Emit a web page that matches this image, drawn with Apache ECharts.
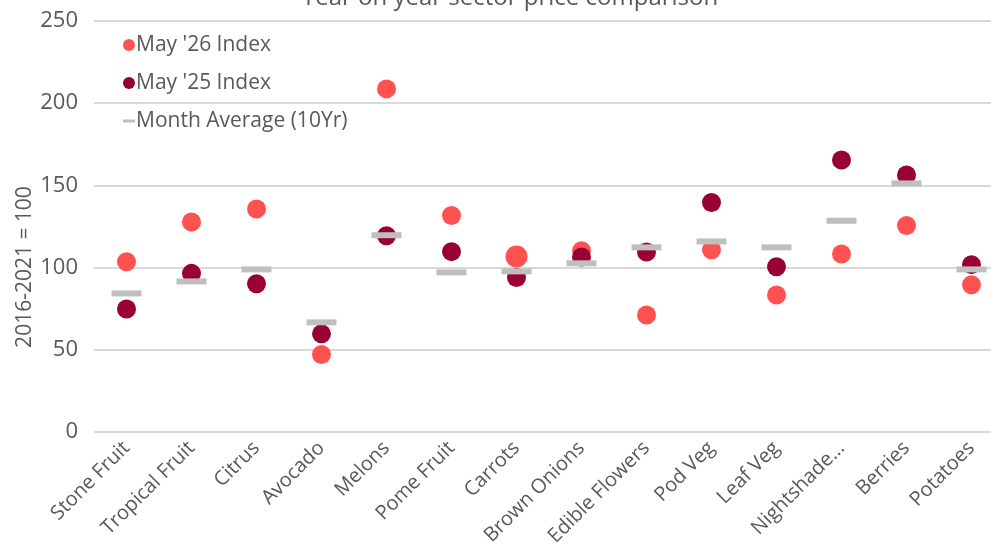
<!DOCTYPE html>
<html>
<head>
<meta charset="utf-8">
<script src="https://cdn.jsdelivr.net/npm/echarts@6/dist/echarts.min.js"></script>
<style>
  html, body { margin: 0; padding: 0; background: #fff; }
  #chart { width: 991px; height: 550px; }
</style>
</head>
<body>
<div id="chart"></div>
<script>
// 品类价格同比对比
const categories = ["Stone Fruit", "Tropical Fruit", "Citrus", "Avocado", "Melons", "Pome Fruit",
    "Carrots", "Brown Onions", "Edible Flowers", "Pod Veg", "Leaf Veg", "Nightshade...", "Berries", "Potatoes"];
const may26 = [103.6, 127.7, 135.6, 47.1, 208.7, 131.7, 106.8, 110.3, 71.2, 110.9, 83.3, 108.3, 125.6, 89.6];
const may25 = [74.8, 96.5, 90.2, 59.7, 119.4, 109.7, 94.0, 106.4, 109.5, 139.6, 100.5, 165.4, 156.3, 101.8];
const monthAvg = [84.3, 91.6, 98.9, 66.7, 119.7, 97.1, 97.7, 102.6, 112.3, 115.9, 112.3, 128.5, 151.2, 98.9];
const yTicks = [0, 50, 100, 150, 200, 250];

const font = "'Open Sans', 'Noto Sans', sans-serif";
const textColor = "#595959";

const chart = echarts.init(document.getElementById("chart"));
chart.setOption({
    animation: false,
    title: {
        text: "Year on year sector price comparison",
        left: 505,
        top: -19,
        textAlign: "center",
        textStyle: { fontFamily: font, fontSize: 24, fontWeight: "normal", color: textColor },
    },
    legend: {
        orient: "vertical",
        left: 118,
        top: 26,
        itemGap: 10,
        itemWidth: 12,
        itemHeight: 12,
        textStyle: { fontFamily: font, fontSize: 21, lineHeight: 28, color: textColor, padding: [0, 0, 0, -4] },
        data: [
            { name: "May '26 Index", icon: "circle" },
            { name: "May '25 Index", icon: "circle" },
            { name: "Month Average (10Yr)", icon: "path://M0,5 L12,5 L12,8 L0,8 Z" },
        ],
    },
    grid: { left: 94, width: 910, top: 21, bottom: 118, outerBoundsMode: "none" },
    graphic: [
        {
            type: "text",
            x: 25,
            y: 267,
            rotation: Math.PI / 2,
            style: {
                text: "2016-2021 = 100",
                fontFamily: font,
                fontSize: 21,
                fill: textColor,
                align: "center",
                verticalAlign: "middle",
            },
        },
    ],
    xAxis: {
        type: "category",
        data: categories,
        axisLine: { show: false },
        axisTick: { show: false },
        axisLabel: {
            interval: 0,
            rotate: 45,
            margin: 13,
            fontFamily: font,
            fontSize: 20,
            color: textColor,
        },
    },
    yAxis: {
        type: "value",
        min: yTicks[0],
        max: yTicks[yTicks.length - 1],
        interval: 50,
        axisLabel: { margin: 16, fontFamily: font, fontSize: 22, color: textColor },
        splitLine: { lineStyle: { color: "#d9d9d9", width: 2 } },
    },
    series: [
        {
            name: "May '26 Index",
            type: "scatter",
            symbol: "circle",
            symbolSize: (v, p) => (p.dataIndex === 6 ? 22 : 19),
            itemStyle: { color: "#ff5250", opacity: 1 },
            data: may26,
        },
        {
            name: "May '25 Index",
            type: "scatter",
            symbol: "circle",
            symbolSize: 19,
            itemStyle: { color: "#990033", opacity: 1 },
            data: may25,
        },
        {
            name: "Month Average (10Yr)",
            type: "scatter",
            symbol: "rect",
            symbolSize: [30, 6],
            itemStyle: { color: "#bfbfbf", opacity: 1 },
            data: monthAvg,
        },
    ],
});
</script>
</body>
</html>
